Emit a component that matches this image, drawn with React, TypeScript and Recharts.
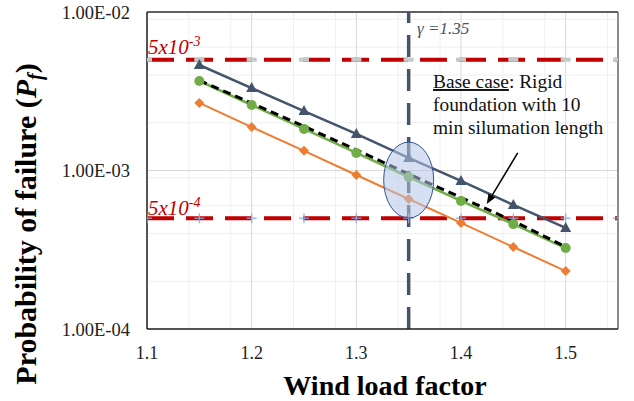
import React from 'react';
import {
  LineChart, Line, XAxis, YAxis, CartesianGrid, ReferenceLine, ReferenceDot,
} from 'recharts';

// wind load factors of the analysed cases
const loadFactors = [1.15, 1.2, 1.25, 1.3, 1.35, 1.4, 1.45, 1.5];
// probability of failure
const pfTriangle = [4.63e-3, 3.31e-3, 2.37e-3, 1.7e-3, 1.2e-3, 8.59e-4, 6.06e-4, 4.34e-4];
const pfCircle = [3.67e-3, 2.59e-3, 1.83e-3, 1.29e-3, 9.1e-4, 6.43e-4, 4.59e-4, 3.24e-4];
const pfBaseCase = [3.7e-3, 2.66e-3, 1.9e-3, 1.35e-3, 9.5e-4, 6.75e-4, 4.8e-4, 3.3e-4];
const pfDiamond = [2.67e-3, 1.88e-3, 1.33e-3, 9.37e-4, 6.61e-4, 4.67e-4, 3.29e-4, 2.32e-4];

// target limits
const limitFactors = [1.1, 1.15, 1.2, 1.25, 1.3, 1.35, 1.4, 1.45, 1.5, 1.55];
const upperLimit = 5e-3;
const lowerLimit = 5e-4;
const gammaDesign = 1.35;

const xTicks = [1.1, 1.2, 1.3, 1.4, 1.5];
const xMinor = [1.12, 1.14, 1.16, 1.18, 1.22, 1.24, 1.26, 1.28, 1.32, 1.34, 1.36, 1.38, 1.42, 1.44, 1.46, 1.48, 1.52, 1.54];
const yTicks = [1e-4, 1e-3, 1e-2];
const yMinor = [2e-4, 3e-4, 4e-4, 5e-4, 6e-4, 7e-4, 8e-4, 9e-4, 2e-3, 3e-3, 4e-3, 5e-3, 6e-3, 7e-3, 8e-3, 9e-3];

const seriesData = loadFactors.map((x, i) => ({
  x,
  tri: pfTriangle[i],
  circ: pfCircle[i],
  base: pfBaseCase[i],
  dia: pfDiamond[i],
}));
const limitData = limitFactors.map((x) => ({ x, upper: upperLimit, lower: lowerLimit }));

const SERIF = "'Liberation Serif', 'Times New Roman', serif";

const fmtSci = (v: number) => {
  const e = Math.round(Math.log10(v));
  return `1.00E-0${-e}`;
};

const triangleDot = (p: any) => {
  const { cx, cy, index } = p;
  if (cx == null || cy == null) return <g key={`t${index}`} />;
  return <path key={`t${index}`} d={`M${cx},${cy - 6}L${cx + 5.5},${cy + 4}L${cx - 5.5},${cy + 4}Z`} fill="#44546A" />;
};
const circleDot = (p: any) => {
  const { cx, cy, index } = p;
  if (cx == null || cy == null) return <g key={`c${index}`} />;
  return <circle key={`c${index}`} cx={cx} cy={cy} r={5} fill="#70AD47" />;
};
const diamondDot = (p: any) => {
  const { cx, cy, index } = p;
  if (cx == null || cy == null) return <g key={`d${index}`} />;
  return <path key={`d${index}`} d={`M${cx},${cy - 5}L${cx + 5},${cy}L${cx},${cy + 5}L${cx - 5},${cy}Z`} fill="#ED7D31" />;
};
const dashDot = (p: any) => {
  const { cx, cy, index } = p;
  if (cx == null || cy == null) return <g key={`g${index}`} />;
  return <rect key={`g${index}`} x={cx - 5} y={cy - 2} width={10} height={4} fill="#C8C8C8" />;
};
const plusDot = (p: any) => {
  const { cx, cy, index } = p;
  if (cx == null || cy == null) return <g key={`p${index}`} />;
  return (
    <g key={`p${index}`} stroke="#8FAADC" strokeWidth={1.2}>
      <line x1={cx - 5} y1={cy} x2={cx + 5} y2={cy} />
      <line x1={cx} y1={cy - 5} x2={cx} y2={cy + 5} />
    </g>
  );
};

const arrowShape = (p: any) => {
  const { x1, y1, x2, y2 } = p;
  const ang = Math.atan2(y2 - y1, x2 - x1);
  const L = 10, W = 4;
  const bx = x2 - L * Math.cos(ang), by = y2 - L * Math.sin(ang);
  const nx = -Math.sin(ang) * W, ny = Math.cos(ang) * W;
  return (
    <g>
      <line x1={x1} y1={y1} x2={bx} y2={by} stroke="#000" strokeWidth={1.5} />
      <path d={`M${x2},${y2}L${bx + nx},${by + ny}L${bx - nx},${by - ny}Z`} fill="#000" />
    </g>
  );
};

export default function App() {
  return (
    <div style={{ position: 'absolute', left: 0, top: 0, width: 634, height: 401, background: '#fff' }}>
      <LineChart width={634} height={401} margin={{ top: 12, right: 16, left: 0, bottom: 0 }}>
        <CartesianGrid stroke="#EFEFEF" verticalValues={xMinor} horizontalValues={yMinor} />
        <CartesianGrid stroke="#D9D9D9" verticalValues={xTicks} horizontalValues={yTicks} />
        <XAxis
          type="number"
          dataKey="x"
          domain={[1.1, 1.55]}
          ticks={xTicks}
          allowDataOverflow
          height={72}
          tickLine={false}
          tickSize={0}
          tickMargin={17}
          axisLine={{ stroke: '#222', strokeWidth: 1.5 }}
          tick={{ fill: '#222', fontSize: 18, fontFamily: SERIF }}
        />
        <YAxis
          scale="log"
          domain={[1e-4, 1e-2]}
          ticks={yTicks}
          allowDataOverflow
          width={147}
          tickLine={false}
          tickSize={0}
          tickMargin={17}
          tickFormatter={fmtSci}
          axisLine={{ stroke: '#222', strokeWidth: 1.5 }}
          tick={{ fill: '#222', fontSize: 18.5, fontFamily: SERIF }}
        />
        <ReferenceLine y={1e-2} stroke="#333" strokeWidth={1.5} />
        <ReferenceLine x={1.55} stroke="#666" strokeWidth={1.5} />
        <ReferenceLine x={gammaDesign} stroke="#44546A" strokeWidth={3.5} strokeDasharray="22 12" />

        <Line data={limitData} dataKey="upper" stroke="#C00000" strokeWidth={4} strokeDasharray="27 12" dot={dashDot} isAnimationActive={false} />
        <Line data={limitData} dataKey="lower" stroke="#C00000" strokeWidth={4} strokeDasharray="27 12" dot={plusDot} isAnimationActive={false} />

        <Line data={seriesData} dataKey="tri" stroke="#44546A" strokeWidth={2.5} dot={triangleDot} isAnimationActive={false} />
        <Line data={seriesData} dataKey="circ" stroke="#70AD47" strokeWidth={2.5} dot={circleDot} isAnimationActive={false} />
        <Line data={seriesData} dataKey="base" stroke="#000" strokeWidth={3} strokeDasharray="8 5" dot={false} isAnimationActive={false} />
        <Line data={seriesData} dataKey="dia" stroke="#ED7D31" strokeWidth={2} dot={diamondDot} isAnimationActive={false} />

        <ReferenceDot
          x={gammaDesign}
          y={8.7e-4}
          r={1}
          shape={(p: any) => (
            <ellipse cx={p.cx} cy={p.cy} rx={25} ry={38} fill="#B4C7E7" fillOpacity={0.55} stroke="#2F5597" strokeWidth={1} />
          )}
        />
        <ReferenceLine
          segment={[{ x: 1.4542, y: 1.29e-3 }, { x: 1.4246, y: 6.14e-4 }]}
          shape={arrowShape}
        />
      </LineChart>

      <svg width={634} height={401} style={{ position: 'absolute', left: 0, top: 0, pointerEvents: 'none' }} fontFamily={SERIF}>
        <text x={417} y={34} fontSize={17} fontStyle="italic" fill="#44546A">γ =1.35</text>
        <text x={148} y={54} fontSize={21} fontStyle="italic" fill="#C00000">
          5x10<tspan dy={-8} fontSize={14}>-3</tspan>
        </text>
        <text x={148} y={215} fontSize={21} fontStyle="italic" fill="#C00000">
          5x10<tspan dy={-8} fontSize={14}>-4</tspan>
        </text>
        <text x={433} y={88} fontSize={19.4} fill="#111">
          <tspan textDecoration="underline">Base case</tspan>: Rigid
        </text>
        <text x={433} y={111} fontSize={19.4} fill="#111">foundation with 10</text>
        <text x={433} y={134} fontSize={19.4} fill="#111">min silumation length</text>

        <text x={385} y={395} fontSize={28} fontWeight="bold" textAnchor="middle" fill="#000">Wind load factor</text>
        <text transform="translate(36,224) rotate(-90)" fontSize={30} fontWeight="bold" textAnchor="middle" fill="#000">
          Probability of failure (<tspan fontStyle="italic">P</tspan>
          <tspan fontStyle="italic" fontSize={20} dy={6}>f</tspan>
          <tspan dy={-6}>)</tspan>
        </text>
      </svg>
    </div>
  );
}
